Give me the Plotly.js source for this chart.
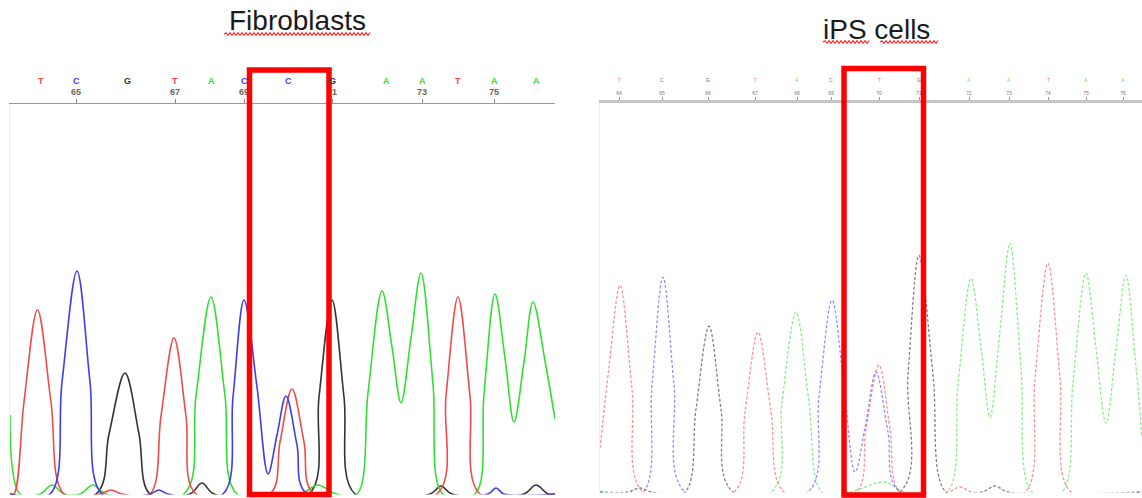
<!DOCTYPE html>
<html>
<head>
<meta charset="utf-8">
<script src="https://cdn.plot.ly/plotly-3.0.1.min.js"></script>
<style>html,body{margin:0;padding:0;background:#fff;}#chart{width:1142px;height:498px;}</style>
</head>
<body>
<div id="chart"></div>
<script>
// ---------- Panel titles ----------
var panelTitles = ["Fibroblasts", "iPS cells"];

// ---------- Fibroblasts (left) : base calls ----------
var leftBases    = ["T","C","G","T","A","C","C","G","A","A","T","A","A"];
var leftBasePos  = [41, 76, 127, 175, 211, 244, 288, 332, 386, 422, 458, 494, 536];
var leftTickNums = [64, 65, 66, 67, 68, 69, 70, 71, 72, 73, 74, 75, 76];

// ---------- Fibroblasts (left) : trace signal (scan position, intensity) ----------
var leftT_x = [10, 14, 24, 37.5, 51, 64, 100, 111, 122, 150, 161, 174, 186, 196, 270, 280, 292, 304, 314, 437, 446, 458, 470, 480, 555];
var leftT_y = [0, 0, 92, 184, 92, 0, 0, 4, 0, 0, 78, 156, 78, 0, 0, 52, 105, 52, 0, 0, 98, 197, 98, 0, 0];
var leftC_x = [10, 50, 62, 77, 90, 102, 150, 159, 168, 223, 233, 244, 257, 268, 277, 286, 297, 307, 488, 496, 504, 555];
var leftC_y = [0, 0, 112, 223, 112, 0, 0, 4, 0, 0, 97, 194, 107, 20, 59, 98, 49, 0, 0, 6, 0, 0];
var leftG_x = [10, 96, 109, 125, 139, 150, 190, 202, 214, 309, 319, 332, 344, 355, 430, 441, 452, 524, 536, 548, 555];
var leftG_y = [0, 0, 60, 121, 60, 0, 0, 11, 0, 0, 97, 194, 97, 0, 0, 8, 0, 0, 9, 0, 0];
var leftA_x = [10, 20, 40, 52, 64, 80, 93, 106, 184, 196, 211, 225, 237, 300, 318, 336, 357, 368, 382, 392, 401, 411, 421, 433, 443, 475, 484, 495, 505, 514, 524, 533, 545, 555];
var leftA_y = [79, 0, 0, 9, 0, 0, 9, 0, 0, 98, 197, 98, 0, 0, 9, 0, 0, 101, 203, 147, 91, 156, 221, 110, 0, 0, 100, 200, 136, 72, 132, 192, 133, 75];

// ---------- iPS cells (right) : base calls ----------
var rightBases    = ["T","C","G","T","A","C","T","G","A","A","T","A","A"];
var rightBasePos  = [619, 662, 708, 755, 797, 831, 879, 919, 969, 1009, 1048, 1086, 1123];
var rightTickNums = [64, 65, 66, 67, 68, 69, 70, 71, 72, 73, 74, 75, 76];

// ---------- iPS cells (right) : trace signal ----------
var rightT_x = [600, 609, 620, 632, 643, 734, 745, 758, 771, 784, 856, 866, 879, 890, 900, 948, 960, 972, 1025, 1035, 1048, 1060, 1071, 1142];
var rightT_y = [44, 125, 207, 103, 0, 0, 80, 160, 80, 0, 0, 63, 127, 63, 0, 0, 5, 0, 0, 114, 229, 114, 0, 0];
var rightC_x = [600, 643, 652, 663, 674, 685, 808, 819, 832, 844, 855, 866, 876, 888, 900, 1142];
var rightC_y = [0, 0, 107, 215, 107, 0, 0, 96, 192, 106, 20, 70, 120, 60, 0, 0];
var rightG_x = [600, 628, 640, 652, 685, 696, 709, 721, 733, 900, 908, 919, 933, 946, 982, 995, 1008, 1142];
var rightG_y = [0, 0, 4, 0, 0, 83, 166, 83, 0, 0, 118, 237, 118, 0, 0, 6, 0, 0];
var rightA_x = [600, 771, 782, 796, 809, 822, 850, 884, 905, 947, 958, 971, 981, 990, 1000, 1010, 1021, 1032, 1062, 1073, 1086, 1096, 1106, 1116, 1126, 1135, 1142];
var rightA_y = [0, 0, 90, 180, 90, 0, 0, 10, 0, 0, 107, 214, 145, 75, 162, 249, 124, 0, 0, 110, 219, 144, 69, 143, 217, 136, 55];

// ---------- highlighted base windows (scan units) ----------
var leftBox  = [249.5, 329];
var rightBox = [844, 923.5];

// ---------- styling ----------
var W = 1142, H = 498;
var baseColor = {T: "#f04a4a", C: "#3d3df0", G: "#333333", A: "#30e030"};
var baseColorR = {T: "#ff6a6a", C: "#6a6aff", G: "#555555", A: "#5ee85e"};

function px(x){ return x / W; }
function py(y){ return 1 - y / H; }

function solid(x, y, c){
  return {x: x, y: y, type: "scatter", mode: "lines", xaxis: "x", yaxis: "y",
    line: {color: c, width: 1.6, shape: "spline", smoothing: 1}, hoverinfo: "skip"};
}
function dashed(x, y, c){
  return {x: x, y: y, type: "scatter", mode: "lines", xaxis: "x2", yaxis: "y2", opacity: 0.75,
    line: {color: c, width: 1.3, shape: "spline", smoothing: 1, dash: "3px,2px"}, hoverinfo: "skip"};
}

var data = [
  solid(leftG_x, leftG_y, baseColor.G),
  solid(leftA_x, leftA_y, baseColor.A),
  solid(leftT_x, leftT_y, baseColor.T),
  solid(leftC_x, leftC_y, baseColor.C),
  dashed(rightG_x, rightG_y, baseColorR.G),
  dashed(rightA_x, rightA_y, baseColorR.A),
  dashed(rightT_x, rightT_y, baseColorR.T),
  dashed(rightC_x, rightC_y, baseColorR.C)
];

var annotations = [];
annotations.push({text: panelTitles[0], x: px(297), y: py(21), xref: "paper", yref: "paper",
  xanchor: "center", yanchor: "middle",
  showarrow: false, font: {family: "Liberation Sans, Arial, sans-serif", size: 28, color: "#1a1a1a"}});
annotations.push({text: panelTitles[1], x: px(876), y: py(29), xref: "paper", yref: "paper",
  xanchor: "center", yanchor: "middle",
  showarrow: false, font: {family: "Liberation Sans, Arial, sans-serif", size: 28, color: "#1a1a1a"}});
leftBases.forEach(function(b, i){
  annotations.push({text: "<b>" + b + "</b>", x: leftBasePos[i], y: py(81), xref: "x", yref: "paper",
    xanchor: "center", yanchor: "middle",
    showarrow: false, font: {family: "Liberation Sans, Arial, sans-serif", size: 9, color: baseColor[b]}});
});
rightBases.forEach(function(b, i){
  annotations.push({text: b, x: rightBasePos[i], y: py(80), xref: "x2", yref: "paper",
    xanchor: "center", yanchor: "middle",
    showarrow: false, font: {family: "Liberation Sans, Arial, sans-serif", size: 5, color: baseColorR[b]}});
});

function wavy(x0, x1, y){
  var d = "M" + px(x0) + "," + py(y);
  var up = true;
  for (var x = x0 + 2; x <= x1; x += 2){
    d += " L" + px(x) + "," + py(y + (up ? -1.3 : 1.3));
    up = !up;
  }
  return {type: "path", path: d, xref: "paper", yref: "paper", line: {color: "#ff2020", width: 1.1}};
}

var shapes = [
  {type: "rect", xref: "x", yref: "paper", x0: leftBox[0], x1: leftBox[1], y0: py(494.5), y1: py(70),
    line: {color: "#ff0000", width: 5.5}, fillcolor: "rgba(0,0,0,0)"},
  {type: "rect", xref: "x2", yref: "paper", x0: rightBox[0], x1: rightBox[1], y0: py(495), y1: py(68.5),
    line: {color: "#ff0000", width: 5.5}, fillcolor: "rgba(0,0,0,0)"},
  wavy(224, 370, 34),
  wavy(823, 869, 42),
  wavy(880, 938, 42)
];

var oddIdx = leftTickNums.map(function(n, i){ return n % 2 === 1 ? i : -1; }).filter(function(i){ return i >= 0; });

var layout = {
  width: W, height: H,
  margin: {l: 0, r: 0, t: 0, b: 0},
  paper_bgcolor: "#ffffff", plot_bgcolor: "rgba(0,0,0,0)",
  showlegend: false,
  font: {family: "Liberation Sans, Arial, sans-serif"},
  xaxis: {domain: [px(10), px(555)], range: [10, 555], anchor: "y", side: "top",
    showgrid: false, zeroline: false, showline: true, linecolor: "#9a9a9a", linewidth: 1,
    ticks: "outside", ticklen: 4, tickwidth: 1, tickcolor: "#888",
    tickmode: "array", tickvals: oddIdx.map(function(i){ return leftBasePos[i]; }),
    ticktext: oddIdx.map(function(i){ return "<b>" + leftTickNums[i] + "</b>"; }),
    tickfont: {size: 9, color: "#666"}, fixedrange: true},
  yaxis: {domain: [py(494.5), py(104)], range: [-0.5, 390], anchor: "x",
    showgrid: false, zeroline: false, showline: true, linecolor: "#eeeeee", linewidth: 1,
    showticklabels: false, ticks: "", fixedrange: true},
  xaxis2: {domain: [px(600), 1], range: [600, 1142], anchor: "y2", side: "top",
    showgrid: false, zeroline: false, showline: true, linecolor: "#c6c6c6", linewidth: 3,
    ticks: "outside", ticklen: 3, tickwidth: 1, tickcolor: "#999",
    tickmode: "array", tickvals: rightBasePos, ticktext: rightTickNums.map(String),
    tickfont: {size: 5, color: "#777"}, fixedrange: true},
  yaxis2: {domain: [py(492.5), py(102.5)], range: [-0.5, 390], anchor: "x2",
    showgrid: false, zeroline: false, showline: true, linecolor: "#f0f0f0", linewidth: 1,
    showticklabels: false, ticks: "", fixedrange: true},
  annotations: annotations,
  shapes: shapes
};

Plotly.newPlot("chart", data, layout, {displayModeBar: false, staticPlot: true});
</script>
</body>
</html>
